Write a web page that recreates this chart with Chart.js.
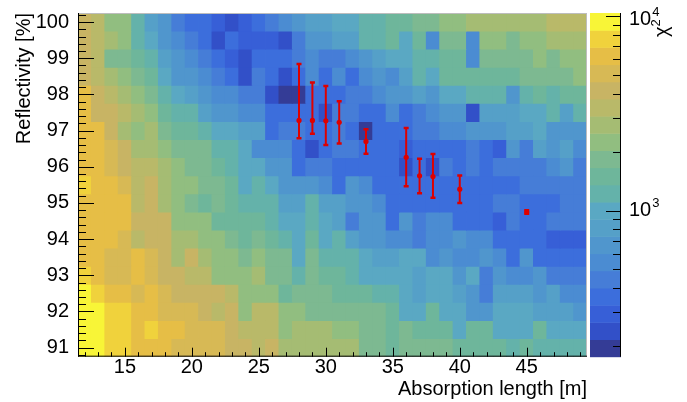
<!DOCTYPE html>
<html>
<head>
<meta charset="utf-8">
<script src="https://cdn.jsdelivr.net/npm/chart.js@4.4.0/dist/chart.umd.min.js"></script>
<style>
  html, body { margin: 0; padding: 0; background: #fff; }
  #wrap { width: 687px; height: 402px; position: relative; }
</style>
</head>
<body>
<div id="wrap"><canvas id="chi2Map"></canvas></div>
<script>
// scan grid: bin centres
const absorptionLength = [12, 13, 14, 15, 16, 17, 18, 19, 20, 21, 22, 23, 24, 25, 26, 27, 28, 29, 30,
  31, 32, 33, 34, 35, 36, 37, 38, 39, 40, 41, 42, 43, 44, 45, 46, 47, 48, 49];
const reflectivity = [100, 99.5, 99, 98.5, 98, 97.5, 97, 96.5, 96, 95.5, 95, 94.5, 94, 93.5, 93, 92.5, 92, 91.5, 91];

// chi2 per cell, one row per reflectivity bin (top row = 100 %)
const chi2 = [
  [4150,3380,2250,2250,1220,815,665,440,360,360,295,240,295, 360,440,540,665,815,815,1000,1000,1220,1220,1500,1500,1840, 1840,2250,2250,2760,2760,2760,2760,2760,2760,3380,3380,3380],
  [4150,3380,2760,2250,1220,1000,665,540,440,360,240,360,295, 295,295,240,440,665,665,815,815,1220,1220,1500,1000,1500, 540,1840,1840,540,2250,2250,1840,2250,2250,2760,2760,2760],
  [4150,3380,1840,1840,1500,1220,815,665,540,440,360,295,240, 360,360,360,440,540,440,440,540,665,815,1000,1000,1220, 1220,1500,1500,540,1840,1840,1840,1840,2250,1840,2250,2250],
  [4150,3380,2760,2250,1840,1500,1000,665,665,540,440,360,240, 440,360,240,360,540,360,540,360,540,665,540,815,1220, 1000,1500,1500,1500,1500,1500,1500,1840,1840,1840,1840,2250],
  [6230,4150,3380,2760,2250,1840,1220,1000,815,665,540,540,440, 440,240,195,195,360,360,360,440,440,540,665,665,815, 665,1000,1000,1220,1220,1220,665,1220,1500,1220,1500,1500],
  [6230,4150,4150,3380,2760,2250,1500,1220,1220,815,665,665,540, 540,360,360,360,360,240,440,440,360,360,540,360,440, 540,665,665,240,815,815,815,1000,1000,1220,815,1220],
  [6230,6230,4150,2760,2250,2760,1840,1500,1500,1220,1000,1000,815, 815,360,440,440,360,360,440,360,195,360,360,360,440, 440,540,540,665,665,665,815,815,1000,665,665,665],
  [6230,6230,5080,4150,2760,2760,2250,1840,1840,1840,1220,1220,1000, 540,540,540,360,240,360,440,440,360,360,360,295,360, 360,360,360,440,360,295,665,440,815,665,815,540],
  [6230,6230,5080,4150,3380,3380,2760,2250,1840,1840,1500,1220,1000, 1000,665,665,360,440,440,360,360,360,360,360,240,360, 240,440,360,440,360,440,440,440,440,540,665,440],
  [7630,6230,6230,5080,3380,4150,2760,2250,2250,1840,1840,1500,1000, 1220,1000,665,665,665,540,360,665,540,360,360,360,360, 360,360,360,360,360,360,360,440,440,440,440,440],
  [6230,6230,6230,6230,3380,4150,2760,2250,1840,1500,1840,1500,1220, 1220,1220,815,815,1220,815,815,665,665,540,360,360,360, 360,360,360,360,360,440,440,360,360,360,440,440],
  [6230,6230,6230,6230,4150,4150,4150,2250,2250,2250,1500,1500,1500, 1500,1220,1000,1000,1220,1000,815,440,665,665,360,665,440, 540,540,360,360,360,295,440,360,360,440,440,440],
  [6230,6230,6230,5080,3380,4150,4150,2760,2760,2250,2250,1840,1500, 1840,1500,1220,1000,1500,1000,1220,815,665,665,540,540,440, 540,540,665,540,540,360,360,360,360,295,295,295],
  [6230,6230,5080,5080,6230,5080,4150,2760,4150,2760,2250,2250,1840, 2250,1840,1840,1000,1840,1220,1220,1220,1000,815,815,1000,1000, 540,665,540,540,665,540,360,665,360,360,360,360],
  [7630,6230,5080,5080,6230,5080,4150,4150,3380,3380,2250,2250,2250, 2760,1840,1840,1220,1840,1500,1500,1220,1000,1000,1000,1000,815, 1000,1000,665,1000,440,665,540,540,665,440,440,440],
  [9360,7630,6230,6230,5080,6230,5080,4150,4150,4150,4150,3380,2250, 2250,2250,1500,1840,1840,1840,1500,1500,1500,1220,1220,1000,815, 1000,1000,815,665,440,815,815,815,665,815,540,540],
  [9360,9360,7630,7630,6230,6230,5080,5080,5080,4150,3380,4150,2250, 3380,3380,2250,2250,1840,1840,1840,1840,1840,1840,1500,1000,1000, 1500,1000,1000,665,665,1000,1000,1000,815,815,815,665],
  [9360,9360,7630,7630,6230,7630,6230,6230,5080,5080,5080,4150,3380, 3380,3380,2250,2760,2760,2760,2250,2250,1840,1840,1500,1840,1500, 1500,1500,1000,1500,1500,1000,1000,1000,1500,1000,1000,1000],
  [9360,9360,7630,7630,6230,6230,6230,5080,5080,5080,5080,4150,4150, 3380,4150,2760,2760,2760,2760,2760,2760,1840,1840,1500,1840,1840, 1840,1840,1500,1500,1500,1500,1220,1500,1220,1220,1220,1220],
];

// best-fit points with asymmetric errors
const fitLength = [28, 29, 30, 31, 33, 36, 37, 38, 40, 45];
const fitRefl = [97.28, 97.28, 97.27, 97.23, 96.7, 96.26, 95.75, 95.73, 95.38, 94.75];
const fitErrUp = [1.56, 1.05, 0.96, 0.58, 0.34, 0.81, 0.47, 0.62, 0.38, 0.05];
const fitErrDown = [0.49, 0.37, 0.67, 0.59, 0.34, 0.8, 0.48, 0.59, 0.38, 0.05];

// axis ticks
const xTicks = [15, 20, 25, 30, 35, 40, 45];
const yTicks = [91, 92, 93, 94, 95, 96, 97, 98, 99, 100];
const zTicks = [1000, 10000];

// 20-level palette, low to high
const palette = ['#343c96', '#3250c8', '#375fd7', '#3c6edc', '#467dd7', '#4b8cd2', '#5096cd', '#55a0c8',
  '#5aa8c3', '#64b2aa', '#6eb69b', '#7db991', '#91be80', '#a5bc73', '#b9b969', '#c8b464',
  '#d7b955', '#e6be46', '#f0d23c', '#f8f537'];

const zMin = 177;
const zMax = 10400;
const FONT = "'Liberation Sans', Arial, Helvetica, sans-serif";
const RED = 'rgb(222,0,0)';

function colorFor(v) {
  const t = (Math.log10(v) - Math.log10(zMin)) / (Math.log10(zMax) - Math.log10(zMin));
  const i = Math.min(palette.length - 1, Math.max(0, Math.floor(t * palette.length)));
  return palette[i];
}

const halfBin = (reflectivity[0] - reflectivity[1]) / 2;

const rowSets = reflectivity.map((r, j) => ({
  type: 'bar',
  data: absorptionLength.map((x) => ({ x: x, y: [r - halfBin, r + halfBin] })),
  backgroundColor: chi2[j].map(colorFor),
  borderWidth: 0,
  inflateAmount: 0.4,
  barPercentage: 1,
  categoryPercentage: 1,
  grouped: false,
  order: 2,
}));

const fitSet = {
  type: 'scatter',
  data: fitLength.map((x, i) => ({ x: x, y: fitRefl[i] })),
  pointStyle: 'circle',
  pointRadius: 2.6,
  backgroundColor: RED,
  borderWidth: 0,
  order: 1,
};

// ROOT-like decorations: inward ticks, frame, error bars, colour bar
const rootDecor = {
  id: 'rootDecor',
  afterDatasetsDraw(chart) {
    const { ctx, chartArea: a, scales } = chart;
    const x = scales.x, y = scales.y, z = scales.z;
    ctx.save();

    // error bars
    ctx.strokeStyle = RED;
    ctx.lineWidth = 2;
    fitLength.forEach((lx, i) => {
      const px = x.getPixelForValue(lx);
      const top = y.getPixelForValue(fitRefl[i] + fitErrUp[i]);
      const bot = y.getPixelForValue(fitRefl[i] - fitErrDown[i]);
      ctx.beginPath();
      ctx.moveTo(px, top);
      ctx.lineTo(px, bot);
      ctx.stroke();
      ctx.lineWidth = 2.5;
      ctx.beginPath();
      ctx.moveTo(px - 2.5, top); ctx.lineTo(px + 2.5, top);
      ctx.moveTo(px - 2.5, bot); ctx.lineTo(px + 2.5, bot);
      ctx.stroke();
      ctx.lineWidth = 2;
    });

    // frame
    ctx.lineWidth = 1;
    ctx.strokeStyle = '#bdbdbd';
    ctx.beginPath();
    ctx.moveTo(a.left, a.top + 0.5); ctx.lineTo(a.right, a.top + 0.5);
    ctx.moveTo(a.right - 0.5, a.top); ctx.lineTo(a.right - 0.5, a.bottom);
    ctx.stroke();
    ctx.strokeStyle = '#000';
    ctx.beginPath();
    ctx.moveTo(a.left + 0.5, a.top); ctx.lineTo(a.left + 0.5, a.bottom);
    ctx.moveTo(a.left, a.bottom - 0.5); ctx.lineTo(a.right, a.bottom - 0.5);
    ctx.stroke();

    // y ticks every 0.2, major every 1
    ctx.beginPath();
    for (let i = 454; i <= 501; i++) {
      const py = Math.round(y.getPixelForValue(i / 5)) + 0.5;
      const len = i % 5 === 0 ? 16 : 8;
      ctx.moveTo(a.left, py); ctx.lineTo(a.left + len, py);
    }
    // x ticks every 1, major every 5
    for (let v = 12; v <= 49; v++) {
      const px = Math.round(x.getPixelForValue(v)) + 0.5;
      const len = v % 5 === 0 ? 9 : 4.5;
      ctx.moveTo(px, a.bottom); ctx.lineTo(px, a.bottom - len);
    }
    ctx.stroke();

    // colour bar
    const cbLeft = a.right + 3, cbRight = a.right + 34;
    const lr = Math.log10(zMax / zMin);
    for (let k = 0; k < palette.length; k++) {
      const lo = zMin * Math.pow(10, lr * k / palette.length);
      const hi = zMin * Math.pow(10, lr * (k + 1) / palette.length);
      const y1 = z.getPixelForValue(lo), y2 = z.getPixelForValue(hi);
      ctx.fillStyle = palette[k];
      ctx.fillRect(cbLeft, y2, cbRight - cbLeft, y1 - y2 + 0.5);
    }
    ctx.strokeStyle = '#000';
    ctx.beginPath();
    ctx.moveTo(cbRight - 0.5, a.top); ctx.lineTo(cbRight - 0.5, a.bottom);
    for (let d = 100; d <= 10000; d *= 10) {
      for (let m = 1; m <= 9; m++) {
        const v = d * m;
        if (v < zMin || v > zMax) continue;
        const py = Math.round(z.getPixelForValue(v)) + 0.5;
        const len = m === 1 ? 15 : 8;
        ctx.moveTo(cbRight, py); ctx.lineTo(cbRight - len, py);
      }
    }
    ctx.stroke();

    // colour bar labels 10^n
    ctx.fillStyle = '#000';
    ctx.textBaseline = 'middle';
    ctx.textAlign = 'left';
    zTicks.forEach((v) => {
      const py = Math.max(z.getPixelForValue(v), a.top + 6);
      ctx.font = '20px ' + FONT;
      const lx = cbRight + 8;
      ctx.fillText('10', lx, py);
      const w = ctx.measureText('10').width;
      ctx.font = '13px ' + FONT;
      ctx.fillText(String(Math.round(Math.log10(v))), lx + w + 1, py - 7);
    });

    // z title
    ctx.translate(668, 37);
    ctx.rotate(-Math.PI / 2);
    ctx.textBaseline = 'alphabetic';
    ctx.font = '20px ' + FONT;
    ctx.fillText('χ', 0, 0);
    const cw = ctx.measureText('χ').width;
    ctx.font = '13px ' + FONT;
    ctx.fillText('2', cw, -8);

    ctx.restore();
  },
};

new Chart(document.getElementById('chi2Map'), {
  type: 'bar',
  data: { datasets: rowSets.concat([fitSet]) },
  options: {
    responsive: true,
    maintainAspectRatio: false,
    animation: false,
    events: [],
    layout: { padding: { top: 12.7, left: 0, right: 0, bottom: 0 } },
    plugins: { legend: { display: false }, tooltip: { enabled: false } },
    scales: {
      x: {
        type: 'linear',
        min: 11.5,
        max: 49.5,
        offset: false,
        grid: { display: false },
        border: { display: false },
        afterBuildTicks: (s) => { s.ticks = xTicks.map((v) => ({ value: v })); },
        ticks: { color: '#000', font: { family: FONT, size: 20 }, padding: -9, maxRotation: 0, autoSkip: false },
        title: {
          display: true, text: 'Absorption length [m]', align: 'end', color: '#000',
          font: { family: FONT, size: 20 }, padding: { top: 0, bottom: 1 },
        },
        afterFit: (s) => { s.height = 45.3; },
      },
      y: {
        type: 'linear',
        min: 90.75,
        max: 100.25,
        beginAtZero: false,
        grid: { display: false },
        border: { display: false },
        afterBuildTicks: (s) => { s.ticks = yTicks.map((v) => ({ value: v })); },
        ticks: { color: '#000', font: { family: FONT, size: 20 }, padding: 1, autoSkip: false },
        title: {
          display: true, text: 'Reflectivity [%]', align: 'end', color: '#000',
          font: { family: FONT, size: 20 }, padding: { top: 12, bottom: 0 },
        },
        afterFit: (s) => { s.width = 78; },
      },
      z: {
        type: 'logarithmic',
        position: 'right',
        min: zMin,
        max: zMax,
        grid: { display: false },
        border: { display: false },
        ticks: { display: false },
        afterFit: (s) => { s.width = 100; },
      },
    },
  },
  plugins: [rootDecor],
});
</script>
</body>
</html>
